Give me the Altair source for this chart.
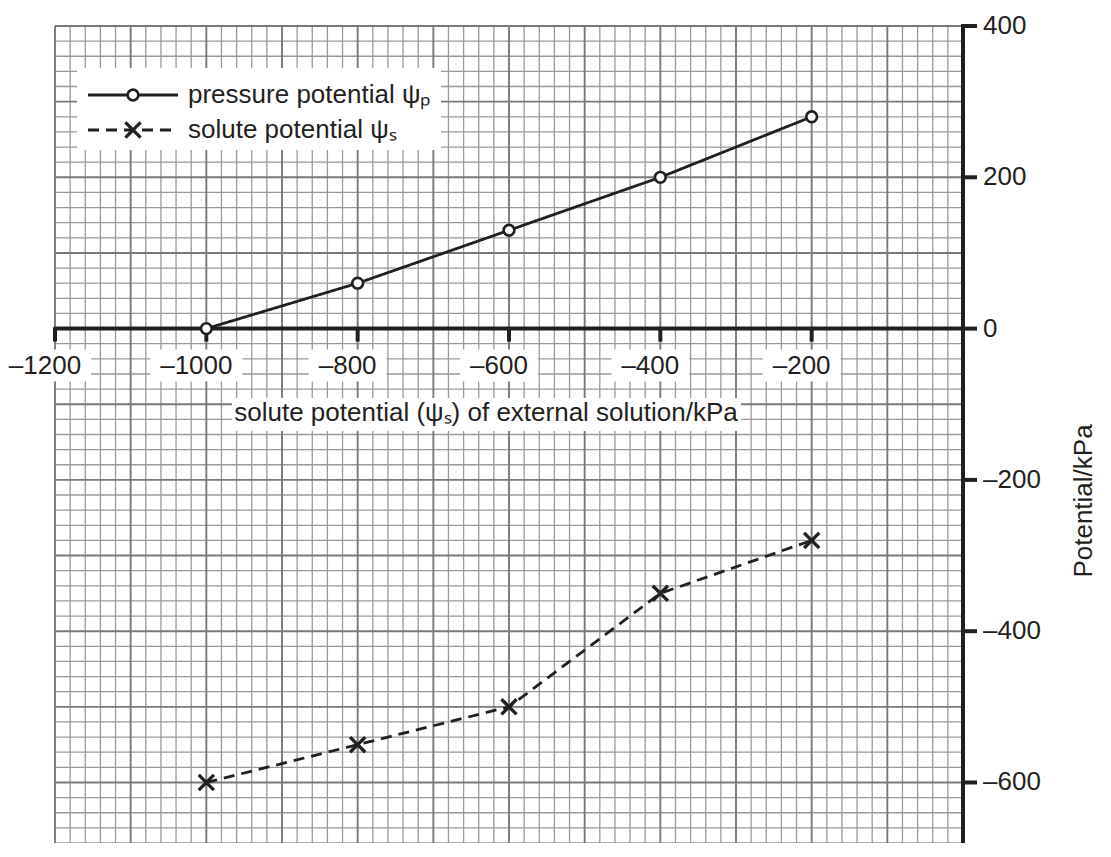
import altair as alt
import pandas as pd

# ---------------- data ----------------
x_values = [-1000, -800, -600, -400, -200]
pressure_potential = [0, 60, 130, 200, 280]
solute_potential = [-600, -550, -500, -350, -280]
series_names = ["pressure potential ψₚ", "solute potential ψₛ"]

x_tick_values = [-1200, -1000, -800, -600, -400, -200]
x_tick_labels = ["–1200", "–1000", "–800", "–600", "–400", "–200"]
y_tick_values = [400, 200, 0, -200, -400, -600]
y_tick_labels = ["400", "200", "0", "–200", "–400", "–600"]
x_title = "solute potential (ψₛ) of external solution/kPa"
y_title = "Potential/kPa"

# ---------------- layout / style ----------------
X_DOMAIN = [-1200, 0]
Y_DOMAIN = [-680, 400]
W, H = 908, 817
PX_X = W / (X_DOMAIN[1] - X_DOMAIN[0])
PX_Y = H / (Y_DOMAIN[1] - Y_DOMAIN[0])
INK = "#231f20"
FONT = "Liberation Sans"
FS = 26
MINOR = "#9a9a9a"
MAJOR = "#7a7a7a"

xs = alt.Scale(domain=X_DOMAIN, nice=False, zero=False)
ys = alt.Scale(domain=Y_DOMAIN, nice=False, zero=False)

def X(field="x"):
    return alt.X(f"{field}:Q", scale=xs, axis=None)

def Y(field="y"):
    return alt.Y(f"{field}:Q", scale=ys, axis=None)

one = pd.DataFrame({"k": [0]})

# ---------------- graph paper ----------------
minor_x = [v for v in range(X_DOMAIN[0], X_DOMAIN[1] + 1, 20) if v % 100]
major_x = [v for v in range(X_DOMAIN[0], X_DOMAIN[1] + 1, 100)]
minor_y = [v for v in range(Y_DOMAIN[0], Y_DOMAIN[1] + 1, 20) if v % 100]
major_y = [v for v in range(Y_DOMAIN[0], Y_DOMAIN[1] + 1, 20) if v % 100 == 0]

grid_minor_v = alt.Chart(pd.DataFrame({"x": minor_x})).mark_rule(
    color=MINOR, strokeWidth=1.3).encode(x=X())
grid_minor_h = alt.Chart(pd.DataFrame({"y": minor_y})).mark_rule(
    color=MINOR, strokeWidth=1.3).encode(y=Y())
grid_major_v = alt.Chart(pd.DataFrame({"x": major_x})).mark_rule(
    color=MAJOR, strokeWidth=1.9).encode(x=X())
grid_major_h = alt.Chart(pd.DataFrame({"y": major_y})).mark_rule(
    color=MAJOR, strokeWidth=1.9).encode(y=Y())

# ---------------- white boxes behind labels ----------------
LABEL_DX = -10
char_w = 0.556 * FS
box_rows = []
for v, lab in zip(x_tick_values, x_tick_labels):
    half = len(lab) * char_w / 2 + 10
    c = v + LABEL_DX / PX_X
    box_rows.append({"x1": c - half / PX_X, "x2": c + half / PX_X,
                     "y1": -21 / PX_Y, "y2": -53 / PX_Y})
label_boxes = alt.Chart(pd.DataFrame(box_rows)).mark_rect(color="white").encode(
    x=X("x1"), x2="x2:Q", y=Y("y1"), y2="y2:Q")

title_box = alt.Chart(one).mark_rect(color="white").encode(
    x=alt.value(177), x2=alt.value(686), y=alt.value(372), y2=alt.value(405))
legend_box = alt.Chart(one).mark_rect(color="white").encode(
    x=alt.value(22), x2=alt.value(386), y=alt.value(42), y2=alt.value(124))

# ---------------- axes (drawn as marks on the scales) ----------------
x_axis_line = alt.Chart(pd.DataFrame({"x": [X_DOMAIN[0]], "x2": [0], "y": [0]})).mark_rule(
    color=INK, strokeWidth=4, strokeCap="round").encode(x=X(), x2="x2:Q", y=Y())
y_axis_line = alt.Chart(pd.DataFrame({"x": [0], "y": [Y_DOMAIN[0]], "y2": [Y_DOMAIN[1]]})).mark_rule(
    color=INK, strokeWidth=4, strokeCap="square").encode(x=X(), y=Y(), y2="y2:Q")

x_ticks = alt.Chart(pd.DataFrame({"x": x_tick_values})).transform_calculate(
    y="0", y2=str(-13 / PX_Y)).mark_rule(color=INK, strokeWidth=4).encode(
    x=X(), y=Y(), y2="y2:Q")
y_ticks = alt.Chart(pd.DataFrame({"y": y_tick_values})).transform_calculate(
    x="0", x2=str(14 / PX_X)).mark_rule(color=INK, strokeWidth=4).encode(
    x=X(), x2="x2:Q", y=Y())

x_labels = alt.Chart(pd.DataFrame({"x": x_tick_values, "t": x_tick_labels})).transform_calculate(
    y="0").mark_text(font=FONT, fontSize=FS, color=INK, align="center", baseline="middle",
                     dx=LABEL_DX, dy=37).encode(x=X(), y=Y(), text="t:N")
y_labels = alt.Chart(pd.DataFrame({"y": y_tick_values, "t": y_tick_labels})).transform_calculate(
    x="0").mark_text(font=FONT, fontSize=FS, color=INK, align="left", baseline="middle",
                     dx=20).encode(x=X(), y=Y(), text="t:N")

x_title_text = alt.Chart(pd.DataFrame({"t": [x_title]})).mark_text(
    font=FONT, fontSize=FS, color=INK, align="center", baseline="middle").encode(
    x=alt.value(431), y=alt.value(387), text="t:N")
y_title_text = alt.Chart(pd.DataFrame({"t": [y_title]})).mark_text(
    font=FONT, fontSize=FS, color=INK, align="center", baseline="middle", angle=270).encode(
    x=alt.value(1029), y=alt.value(475), text="t:N")

# ---------------- data ----------------
df = pd.DataFrame({
    "x": x_values + x_values,
    "y": pressure_potential + solute_potential,
    "series": [series_names[0]] * len(x_values) + [series_names[1]] * len(x_values),
})

dash_scale = alt.Scale(domain=series_names, range=[[1, 0], [11, 7]])
lines = alt.Chart(df).mark_line(color=INK, strokeWidth=2.8).encode(
    x=X(), y=Y(), detail="series:N",
    strokeDash=alt.StrokeDash("series:N", scale=dash_scale, legend=None))

CROSS = "M-1,-1L1,1M-1,1L1,-1"
circles = alt.Chart(df).transform_filter(alt.datum.series == series_names[0]).mark_point(
    shape="circle", size=115, filled=True, fill="white", stroke=INK, strokeWidth=2.6,
    opacity=1).encode(x=X(), y=Y())
crosses = alt.Chart(df).transform_filter(alt.datum.series == series_names[1]).mark_point(
    shape=CROSS, size=230, filled=False, stroke=INK, strokeWidth=3.3, opacity=1).encode(
    x=X(), y=Y())

# ---------------- legend ----------------
legend_layers = []
for i, name in enumerate(series_names):
    ly = 69 + 35 * i
    d = pd.DataFrame({"series": [name]})
    legend_layers.append(alt.Chart(d).mark_rule(
        color=INK, strokeWidth=2.8, strokeDash=[1, 0] if i == 0 else [11, 7]).encode(
        x=alt.value(33), x2=alt.value(123), y=alt.value(ly)))
    if i == 0:
        legend_layers.append(alt.Chart(d).mark_point(
            shape="circle", size=115, filled=True, fill="white", stroke=INK, strokeWidth=2.6,
            opacity=1).encode(x=alt.value(78), y=alt.value(ly)))
    else:
        legend_layers.append(alt.Chart(d).mark_point(
            shape=CROSS, size=230, filled=False, stroke=INK, strokeWidth=3.3,
            opacity=1).encode(x=alt.value(78), y=alt.value(ly)))
    legend_layers.append(alt.Chart(d).mark_text(
        font=FONT, fontSize=FS, color=INK, align="left", baseline="middle").encode(
        x=alt.value(133), y=alt.value(ly), text="series:N"))

chart = alt.layer(
    grid_minor_v, grid_minor_h, grid_major_v, grid_major_h,
    label_boxes, title_box, legend_box,
    x_axis_line, y_axis_line, x_ticks, y_ticks,
    x_labels, y_labels, x_title_text, y_title_text,
    lines, circles, crosses,
    *legend_layers,
).properties(
    width=W, height=H,
    padding={"left": 47, "top": 18, "right": 140, "bottom": 0},
    autosize=alt.AutoSizeParams(type="none"),
    background="white",
).configure_view(stroke=None)

chart.save("out.html", embed_options={"renderer": "svg", "actions": False})
